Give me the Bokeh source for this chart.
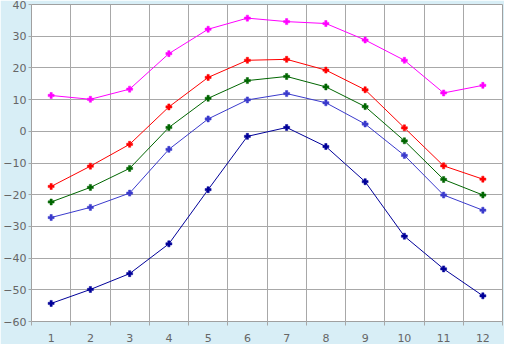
from bokeh.plotting import figure
from bokeh.models import FixedTicker, Range1d
from bokeh.embed import file_html
from bokeh.resources import INLINE

months = [1, 2, 3, 4, 5, 6, 7, 8, 9, 10, 11, 12]
s_magenta = [11.3, 10.1, 13.3, 24.5, 32.2, 35.7, 34.6, 34.0, 28.8, 22.4, 12.1, 14.5]
s_red = [-17.4, -11.0, -4.1, 7.7, 17.0, 22.4, 22.7, 19.3, 13.1, 1.1, -10.9, -15.1]
s_green = [-22.3, -17.7, -11.7, 1.2, 10.4, 16.0, 17.3, 14.0, 7.8, -3.0, -15.2, -20.1]
s_blue = [-27.2, -24.0, -19.5, -5.7, 3.9, 9.9, 11.9, 9.0, 2.3, -7.6, -20.1, -24.9]
s_navy = [-54.3, -49.9, -44.9, -35.5, -18.4, -1.6, 1.2, -4.8, -15.9, -33.1, -43.4, -51.9]
y_ticks = [-60, -50, -40, -30, -20, -10, 0, 10, 20, 30, 40]

series = [
    (s_magenta, "#ff00ff"),
    (s_red, "#ff0000"),
    (s_green, "#006600"),
    (s_blue, "#3a3acc"),
    (s_navy, "#000099"),
]

p = figure(width=504, height=344, output_backend="svg", toolbar_location=None,
           x_range=Range1d(0.5, 12.5), y_range=Range1d(-60, 40),
           min_border_left=4, min_border_right=2, min_border_top=4, min_border_bottom=4)
p.border_fill_color = "#d8eef6"
p.background_fill_color = "white"
p.outline_line_color = "#a0a0a0"

half = [m - 0.5 for m in months] + [12.5]
p.xaxis.ticker = FixedTicker(ticks=months, minor_ticks=half)
p.xgrid.ticker = FixedTicker(ticks=half)
p.yaxis.ticker = FixedTicker(ticks=y_ticks)
p.ygrid.ticker = FixedTicker(ticks=y_ticks)
for g in (p.xgrid, p.ygrid):
    g.grid_line_color = "#a8a8a8"
    g.grid_line_width = 1

for ax in (p.xaxis, p.yaxis):
    ax.axis_line_color = None
    ax.major_label_text_font = "DejaVu Sans"
    ax.major_label_text_font_size = "11px"
    ax.major_label_text_color = "#666666"
p.xaxis.major_tick_line_color = None
p.xaxis.minor_tick_line_color = "#a8a8a8"
p.xaxis.minor_tick_out = 4
p.xaxis.minor_tick_in = 0
p.xaxis.major_label_standoff = 6
p.yaxis.major_tick_line_color = "#a8a8a8"
p.yaxis.major_tick_out = 3
p.yaxis.major_tick_in = 0
p.yaxis.minor_tick_line_color = None
p.yaxis.major_label_standoff = 2

for vals, col in series:
    p.line(months, vals, line_color=col, line_width=1)
    p.scatter(months, vals, marker="plus", size=6, line_color=col, line_width=0.5, fill_color=col)

open("out.html", "w").write(file_html(p, INLINE))
